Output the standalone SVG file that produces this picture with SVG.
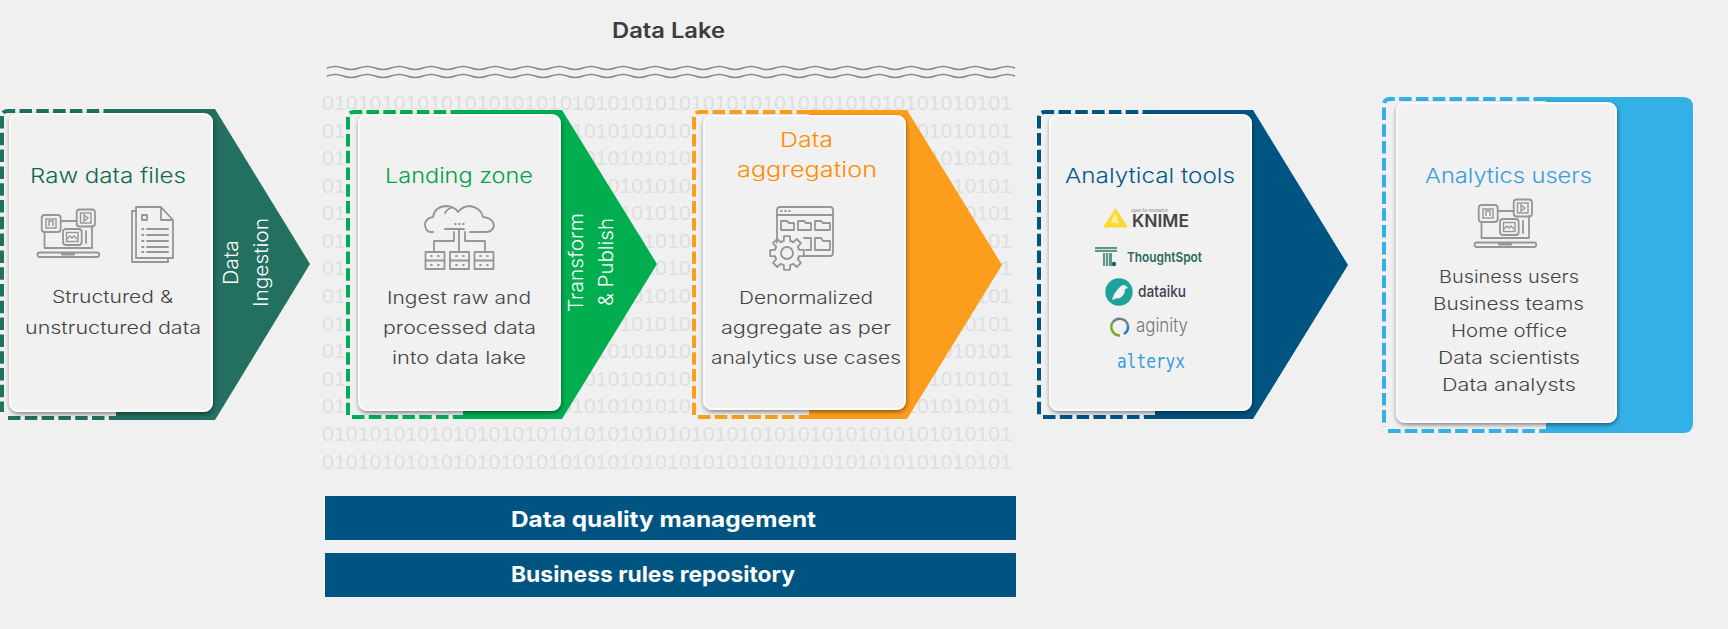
<svg xmlns="http://www.w3.org/2000/svg" width="1728" height="629" viewBox="0 0 1728 629">
  <style>
    text { font-family: Inter, "Liberation Sans", sans-serif; }
    .title { font-size: 20.5px; font-weight: 300; }
    .body { font-size: 17.5px; font-weight: 300; fill: #444; }
    .side { font-size: 19.5px; font-weight: 300; fill: #fff; }
    .bar { font-size: 22px; font-weight: 700; fill: #fff; }
    .bits { font-family: "Liberation Sans", Arial, sans-serif; font-size: 21px; fill: #dedede; }
    .card { fill: #f1f1f1; stroke: #fbfbfb; stroke-width: 2; filter: url(#cardShadow); }
    .cut { fill: #f0f0f0; stroke: none; }
    .dash { fill: none; stroke-width: 4; stroke-dasharray: 12.5 4.3; }
    .wave { fill: none; stroke: #8a8a8a; stroke-width: 1.5; }
    .ico { fill: none; stroke: #969696; stroke-width: 1.8; stroke-linejoin: round; stroke-linecap: round; }
    .ico2 { fill: none; stroke: #969696; stroke-width: 1.4; }
  </style>
  <defs>
    <filter id="cardShadow" x="-10%" y="-10%" width="120%" height="120%">
      <feDropShadow dx="0.5" dy="2" stdDeviation="2" flood-color="#000" flood-opacity="0.45"/>
    </filter>
    <text id="bitRow" class="bits" x="322" y="0" textLength="690" lengthAdjust="spacingAndGlyphs">0101010101010101010101010101010101010101010101010101010101</text>
    <path id="waveLine" d="M327 0q8-3 16 0t16 0t16 0t16 0t16 0t16 0t16 0t16 0t16 0t16 0t16 0t16 0t16 0t16 0t16 0t16 0q8-3 16 0t16 0t16 0t16 0t16 0t16 0t16 0t16 0t16 0t16 0t16 0t16 0t16 0t16 0t16 0t16 0t16 0t16 0t16 0t16 0t16 0t16 0t16 0t16 0t16 0t16 0t16 0"/>
    <g id="laptopIcon">
      <rect class="ico" x="3.7" y="6" width="19" height="17" rx="3"/>
      <rect class="ico2" x="8" y="10" width="10" height="9"/>
      <path class="ico2" d="M11 17v-5h4v5"/>
      <rect class="ico" x="38.7" y="0.5" width="18.3" height="17" rx="3"/>
      <rect class="ico2" x="42.5" y="4" width="10.5" height="10"/>
      <path class="ico2" d="M46 6l4 3-4 3z"/>
      <rect class="ico" x="25" y="20" width="18.7" height="16" rx="3"/>
      <rect class="ico2" x="28.5" y="23.5" width="11.5" height="9"/>
      <path class="ico2" d="M29 30l3-3 2 2 2-2 3 3"/>
      <path class="ico" d="M22.7 12H38.7M6.5 23V39H25M43.7 39H54V17M48 22V34M6.5 39H54"/>
      <path class="ico" d="M1.5 43.5H59a.8.8 0 0 1 0 4.5H2a1 1 0 0 1-.5-4.500zM24 44v1.500h12V44"/>
    </g>
    <g id="toothSeg"><path class="ico" d="M-4.780-11.550L-3.200-11.900L-3-16.800H3L3.200-11.900L4.780-11.550"/></g>
  </defs>

  <rect id="backdrop" width="1728" height="629" fill="#f0f0f0"/>

  <g id="binary-field">
    <use href="#bitRow" y="110"/><use href="#bitRow" y="138"/><use href="#bitRow" y="165"/>
    <use href="#bitRow" y="193"/><use href="#bitRow" y="220"/><use href="#bitRow" y="248"/>
    <use href="#bitRow" y="275"/><use href="#bitRow" y="303"/><use href="#bitRow" y="331"/>
    <use href="#bitRow" y="358"/><use href="#bitRow" y="386"/><use href="#bitRow" y="413"/>
    <use href="#bitRow" y="441"/><use href="#bitRow" y="469"/>
  </g>

  <g id="data-lake-header">
    <text x="612" y="38" font-size="21" font-weight="600" fill="#3c3c3c" textLength="113" lengthAdjust="spacingAndGlyphs">Data Lake</text>
    <use href="#waveLine" class="wave" y="68"/>
    <use href="#waveLine" class="wave" y="76"/>
  </g>

  <g id="connectors"></g>

  <g id="raw-data-files">
    <path fill="#236f60" d="M116 109H215L310 264L215 420H116Z"/>
    <path class="cut" d="M0 108H116V421H0Z"/>
    <path class="dash" stroke="#236f60" d="M116 111H8Q2 111 2 117"/>
    <path class="dash" stroke="#236f60" stroke-dasharray="10 2.500" d="M2 116V412"/>
    <path class="dash" stroke="#236f60" d="M8 418H116"/>
    <rect class="card" x="10" y="114" width="202" height="297" rx="8"/>
    <text class="title" fill="#0d6b4b" x="30" y="183" textLength="156" lengthAdjust="spacingAndGlyphs">Raw data files</text>
    <use href="#laptopIcon" x="38" y="209"/>
    <g id="document-icon">
      <path class="ico" d="M136 207H161L173 220V258H136ZM161 207V220H173"/>
      <path class="ico" d="M136 211H132V262H168V258"/>
      <rect class="ico" x="142" y="215" width="5" height="5"/>
      <path class="ico" d="M142 229h1.500M147 229H168M142 235h1.500M147 235H168M142 241h1.500M147 241H168M142 247h1.500M147 247H168M142 252h1.500M147 252H168"/>
    </g>
    <text class="body" x="52" y="303" textLength="121" lengthAdjust="spacingAndGlyphs">Structured &amp;</text>
    <text class="body" x="25" y="334" textLength="176" lengthAdjust="spacingAndGlyphs">unstructured data</text>
    <text class="side" transform="translate(238 285) rotate(-90)" textLength="45" lengthAdjust="spacingAndGlyphs">Data</text>
    <text class="side" transform="translate(268 307) rotate(-90)" textLength="89" lengthAdjust="spacingAndGlyphs">Ingestion</text>
  </g>

  <g id="landing-zone">
    <path fill="#00ae4f" d="M463 110H562L657 264L562 419H463Z"/>
    <path class="cut" d="M345 109H463V420H345Z"/>
    <path class="dash" stroke="#00ae4f" d="M463 112H354Q348 112 348 118V415"/>
    <path class="dash" stroke="#00ae4f" d="M352 417H463"/>
    <rect class="card" x="359" y="115" width="201" height="295" rx="8"/>
    <text class="title" fill="#00a145" x="385" y="183" textLength="148" lengthAdjust="spacingAndGlyphs">Landing zone</text>
    <g id="cloud-icon">
      <path class="ico" d="M433 232H430Q425 231 425 224Q426 218 433 217Q435 206 447 206Q455 207 458 212Q463 206 470 206Q481 208 483 217Q493 218 494 225Q493 232 486 232H470"/>
      <path class="ico" d="M445 213Q447 209 451 208M445 229H464M455 224h.8M459 224h.8M463 224h.8"/>
      <path class="ico" d="M459 229V252M454 232V241H434V252M465 232V241H485V252"/>
      <rect class="ico" x="425.500" y="252" width="19" height="17"/><rect class="ico" x="450" y="252" width="19" height="17"/><rect class="ico" x="474.500" y="252" width="19" height="17"/>
      <path class="ico" d="M425.500 260.500h19M450 260.500h19M474.500 260.500h19M431 256h.8M438 256h.8M431 265h.8M438 265h.8M456 256h.8M463 256h.8M456 265h.8M463 265h.8M480 256h.8M487 256h.8M480 265h.8M487 265h.8"/>
    </g>
    <text class="body" x="387" y="304" textLength="144" lengthAdjust="spacingAndGlyphs">Ingest raw and</text>
    <text class="body" x="383" y="334" textLength="153" lengthAdjust="spacingAndGlyphs">processed data</text>
    <text class="body" x="392" y="364" textLength="134" lengthAdjust="spacingAndGlyphs">into data lake</text>
    <text class="side" transform="translate(583 312) rotate(-90)" textLength="99" lengthAdjust="spacingAndGlyphs">Transform</text>
    <text class="side" transform="translate(613 306) rotate(-90)" textLength="88" lengthAdjust="spacingAndGlyphs">&amp; Publish</text>
  </g>

  <g id="data-aggregation">
    <path fill="#fd9d1d" d="M809 110H907L1002 265L907 419H809Z"/>
    <path class="cut" d="M691 109H809V420H691Z"/>
    <path class="dash" stroke="#fd9d1d" d="M809 112H700Q694 112 694 118V415"/>
    <path class="dash" stroke="#fd9d1d" d="M698 417H809"/>
    <rect class="card" x="704" y="116" width="201" height="293" rx="8"/>
    <text class="title" fill="#ff8c00" x="780" y="147" textLength="53" lengthAdjust="spacingAndGlyphs">Data</text>
    <text class="title" fill="#ff8c00" x="737" y="177" textLength="140" lengthAdjust="spacingAndGlyphs">aggregation</text>
    <g id="folder-gear-icon">
      <path class="ico" d="M777 245V210Q777 207 780 207H830Q833 207 833 210V253Q833 256 830 256H803"/>
      <path class="ico" d="M777 215H833M781 211h.8M785 211h.8M789 211h.8"/>
      <path class="ico" d="M781 230V221H787L789 223H794V230ZM798 230V221H804L806 223H811V230ZM815 230V221H821L823 223H830V230ZM806 250H811V238H804M815 250V238H821L823 241H830V250Z"/>
      <g transform="translate(787 253)">
        <circle cx="0" cy="0" r="14" fill="#f1f1f1"/>
        <use href="#toothSeg"/><use href="#toothSeg" transform="rotate(45)"/><use href="#toothSeg" transform="rotate(90)"/><use href="#toothSeg" transform="rotate(135)"/><use href="#toothSeg" transform="rotate(180)"/><use href="#toothSeg" transform="rotate(225)"/><use href="#toothSeg" transform="rotate(270)"/><use href="#toothSeg" transform="rotate(315)"/>
        <circle class="ico" cx="0" cy="0" r="6"/>
      </g>
    </g>
    <text class="body" x="739" y="304" textLength="134" lengthAdjust="spacingAndGlyphs">Denormalized</text>
    <text class="body" x="721" y="334" textLength="170" lengthAdjust="spacingAndGlyphs">aggregate as per</text>
    <text class="body" x="711" y="364" textLength="190" lengthAdjust="spacingAndGlyphs">analytics use cases</text>
  </g>

  <g id="analytical-tools">
    <path fill="#005482" d="M1155 110H1253L1348 265L1253 419H1155Z"/>
    <path class="cut" d="M1036 109H1155V420H1036Z"/>
    <path class="dash" stroke="#005482" d="M1155 112H1045Q1039 112 1039 118V415"/>
    <path class="dash" stroke="#005482" d="M1043 417H1155"/>
    <rect class="card" x="1050" y="115" width="201" height="295" rx="8"/>
    <text class="title" fill="#005a8c" x="1065" y="183" textLength="170" lengthAdjust="spacingAndGlyphs">Analytical tools</text>
    <g id="knime-logo">
      <path fill="#fbd92e" d="M1115.500 208L1128 227.500H1103Z"/>
      <path fill="#fdf0a0" d="M1115 213L1119 224L1111 222Z"/>
      <text x="1131" y="212" font-size="4" fill="#777" textLength="37" lengthAdjust="spacingAndGlyphs">Open for Innovation</text>
      <text x="1132" y="227" font-size="17" font-weight="600" fill="#444" textLength="57" lengthAdjust="spacingAndGlyphs">KNIME</text>
    </g>
    <g id="thoughtspot-logo">
      <path fill="#5f978b" d="M1095 247H1117V252H1095ZM1103 253H1112V266H1103Z"/>
      <path stroke="#f1f1f1" stroke-width="0.8" d="M1105.500 253V266M1108.500 253V266M1095 249.500H1117"/>
      <circle cx="1114" cy="264" r="2.200" fill="#1f5f52"/>
      <text x="1127" y="262" font-size="13.500" font-weight="600" fill="#2a6b5c" textLength="75" lengthAdjust="spacingAndGlyphs">ThoughtSpot</text>
    </g>
    <g id="dataiku-logo">
      <circle cx="1119" cy="292" r="13.700" fill="#1ba39c"/>
      <path fill="#f1f1f1" d="M1112 300Q1114 292 1121 286Q1124 284 1126 286L1128 288L1125 289Q1125 295 1120 298Q1116 298 1112 300Z"/>
      <text x="1138" y="297" font-size="16.500" font-weight="500" fill="#3b4350" textLength="48" lengthAdjust="spacingAndGlyphs">dataiku</text>
    </g>
    <g id="aginity-logo">
      <path fill="none" stroke="#6a7f8a" stroke-width="2.500" d="M1113 322A8.500 8.500 0 0 1 1128 326"/>
      <path fill="none" stroke="#7aa62c" stroke-width="2.500" d="M1113 322A8.500 8.500 0 0 0 1120 335.500"/>
      <path fill="none" stroke="#1f7fbf" stroke-width="2.500" d="M1128 326A8.500 8.500 0 0 1 1124 334"/>
      <text x="1136" y="332" font-size="19" font-weight="300" fill="#777" textLength="52" lengthAdjust="spacingAndGlyphs">aginity</text>
    </g>
    <g id="alteryx-logo">
      <text x="1117" y="368" font-size="19" fill="#3a9bdc" style="font-family:'DejaVu Sans Mono',monospace" textLength="68" lengthAdjust="spacingAndGlyphs">alteryx</text>
    </g>
  </g>

  <g id="analytics-users">
    <path fill="#33b0e5" d="M1546 97H1683Q1693 97 1693 107V423Q1693 433 1683 433H1546Z"/>
    <path class="cut" d="M1381 96H1546V434H1381Z"/>
    <path class="dash" stroke="#33b0e5" stroke-dasharray="14 4.300" d="M1546 99H1390Q1384 99 1384 105V427"/>
    <path class="dash" stroke="#33b0e5" stroke-dasharray="14 4.300" d="M1388 431H1546"/>
    <rect class="card" x="1397" y="103" width="219" height="319" rx="8"/>
    <text class="title" fill="#3a9bdc" x="1425" y="183" textLength="167" lengthAdjust="spacingAndGlyphs">Analytics users</text>
    <use href="#laptopIcon" x="1475" y="199"/>
    <text class="body" x="1439" y="283" textLength="140" lengthAdjust="spacingAndGlyphs">Business users</text>
    <text class="body" x="1433" y="310" textLength="151" lengthAdjust="spacingAndGlyphs">Business teams</text>
    <text class="body" x="1451" y="337" textLength="116" lengthAdjust="spacingAndGlyphs">Home office</text>
    <text class="body" x="1438" y="364" textLength="142" lengthAdjust="spacingAndGlyphs">Data scientists</text>
    <text class="body" x="1442" y="391" textLength="134" lengthAdjust="spacingAndGlyphs">Data analysts</text>
  </g>

  <g id="data-quality-management">
    <rect x="325" y="496" width="691" height="44" fill="#005482"/>
    <text class="bar" x="511" y="527" textLength="305" lengthAdjust="spacingAndGlyphs">Data quality management</text>
  </g>
  <g id="business-rules-repository">
    <rect x="325" y="553" width="691" height="44" fill="#005482"/>
    <text class="bar" x="511" y="582" textLength="284" lengthAdjust="spacingAndGlyphs">Business rules repository</text>
  </g>
</svg>
